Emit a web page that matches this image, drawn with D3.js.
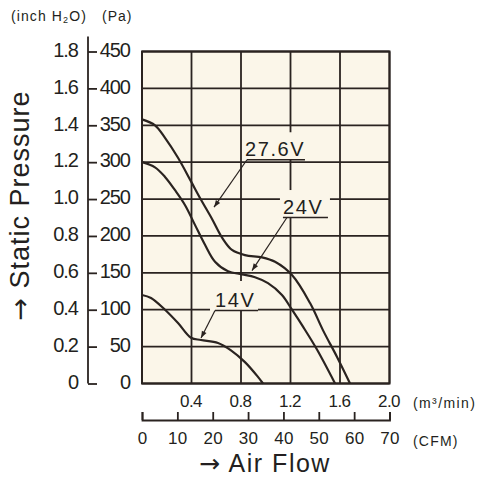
<!DOCTYPE html>
<html>
<head>
<meta charset="utf-8">
<script src="https://cdn.jsdelivr.net/npm/d3@7"></script>
<style>
	body { margin: 0; background: #fff; }
	text { font-family: "Liberation Sans", Arial, sans-serif; fill: #231f20; }
</style>
</head>
<body>
<script>
// values (flow in m3/min, pressure in Pa)
var flow276 = [0, 0.105, 0.186, 0.291, 0.396, 0.477, 0.566, 0.646, 0.727, 0.832, 0.97, 1.075, 1.212, 1.358, 1.463, 1.576, 1.681];
var pres276 = [358, 350, 333, 306, 274, 249, 223, 198, 181, 174, 171, 165, 147, 109, 72, 36, 0];

var flow24 = [0, 0.105, 0.186, 0.267, 0.347, 0.428, 0.509, 0.59, 0.695, 0.808, 0.913, 1.018, 1.131, 1.212, 1.301, 1.414, 1.56];
var pres24 = [300, 293, 280, 262, 242, 215, 188, 165, 152, 148, 144, 136, 120, 100, 77, 46, 0];

var flow14 = [0, 0.073, 0.186, 0.291, 0.396, 0.477, 0.614, 0.719, 0.832, 0.937, 0.978];
var pres14 = [120, 116, 100, 82, 62, 59, 55, 45, 29, 9, 0];

var paTicks = [0, 50, 100, 150, 200, 250, 300, 350, 400, 450];
var inchTicks = [0, 0.2, 0.4, 0.6, 0.8, 1.0, 1.2, 1.4, 1.6, 1.8];
var flowTicks = [0.4, 0.8, 1.2, 1.6, 2.0];
var gridFlow = [0, 0.4, 0.8, 1.2, 1.6, 2.0];
var cfmTicks = [0, 10, 20, 30, 40, 50, 60, 70];

var voltNames = ["27.6V", "24V", "14V"];
// label anchor and leader tip, in data units
var labelFlow = [0.832, 1.139, 0.59];
var labelPres = [308, 229.7, 103.7];
var tipFlow = [0.582, 0.889, 0.477];
var tipPres = [239, 153, 61.6];

var width = 479, height = 477;
var ink = "#2a2320";
var paper = "#fbf6e9";
var margin = {top: 51.5, right: 89.5, bottom: 93.5, left: 142};
var figw = width - margin.left - margin.right;
var figh = height - margin.top - margin.bottom;

var x = d3.scaleLinear().domain([0, 2.0]).range([margin.left, margin.left + figw]);
var y = d3.scaleLinear().domain([0, 450]).range([margin.top + figh, margin.top]);
var yIn = d3.scaleLinear().domain([0, 1.8]).range([margin.top + figh, margin.top]);
var cfm = d3.scaleLinear().domain([0, 70]).range([margin.left, margin.left + figw]);

var svg = d3.select("body").append("svg")
	.attr("width", width)
	.attr("height", height);

// plot background
svg.append("rect")
	.attr("x", x(0))
	.attr("y", y(450))
	.attr("width", x(2) - x(0))
	.attr("height", y(0) - y(450))
	.attr("fill", paper);

// grid
svg.append("g").selectAll("line")
	.data(gridFlow)
	.enter().append("line")
	.attr("x1", function(d) { return x(d); })
	.attr("x2", function(d) { return x(d); })
	.attr("y1", y(0))
	.attr("y2", y(450))
	.style("stroke", ink)
	.style("stroke-width", 1.8);
svg.append("g").selectAll("line")
	.data(paTicks)
	.enter().append("line")
	.attr("x1", x(0))
	.attr("x2", x(2))
	.attr("y1", function(d) { return y(d); })
	.attr("y2", function(d) { return y(d); })
	.style("stroke", ink)
	.style("stroke-width", 1.8);

// label backgrounds hide the grid behind them
var boxes = [
	{dx: -2, dy: -24, w: 64, h: 27},
	{dx: -3, dy: -24, w: 50, h: 28},
	{dx: -5, dy: -26, w: 48, h: 30}
];
for (var i = 0; i < voltNames.length; i++) {
	svg.append("rect")
		.attr("x", x(labelFlow[i]) + boxes[i].dx)
		.attr("y", y(labelPres[i]) + boxes[i].dy)
		.attr("width", boxes[i].w)
		.attr("height", boxes[i].h)
		.attr("fill", paper);
}

// curves
var line = d3.line()
	.x(function(d) { return x(d[0]); })
	.y(function(d) { return y(d[1]); })
	.curve(d3.curveCatmullRom.alpha(0.5));

var series = [d3.zip(flow276, pres276), d3.zip(flow24, pres24), d3.zip(flow14, pres14)];
series.forEach(function(s) {
	svg.append("path")
		.attr("d", line(s))
		.attr("fill", "none")
		.style("stroke", ink)
		.style("stroke-width", 2.2);
});

// labels, underlines and leaders
var underline = [[2, 60], [0, 45], [0, 43]];
var leadFrom = [2, 4, 0];
for (var i = 0; i < voltNames.length; i++) {
	var lx = x(labelFlow[i]), ly = y(labelPres[i]);
	svg.append("text")
		.text(voltNames[i])
		.attr("x", lx)
		.attr("y", ly)
		.style("font-size", "20px")
		.style("letter-spacing", "1.6px");
	svg.append("line")
		.attr("x1", lx + underline[i][0])
		.attr("x2", lx + underline[i][1])
		.attr("y1", ly + 3.5)
		.attr("y2", ly + 3.5)
		.style("stroke", ink)
		.style("stroke-width", 1.6);

	var sx = lx + leadFrom[i], sy = ly + 3.5;
	var tx = x(tipFlow[i]), ty = y(tipPres[i]);
	svg.append("line")
		.attr("x1", sx).attr("y1", sy)
		.attr("x2", tx).attr("y2", ty)
		.style("stroke", ink)
		.style("stroke-width", 1.2);
	var ang = Math.atan2(ty - sy, tx - sx) * 180 / Math.PI;
	svg.append("path")
		.attr("d", "M0,0L-7,-2.6L-7,2.6Z")
		.attr("transform", "translate(" + tx + "," + ty + ") rotate(" + ang + ")")
		.attr("fill", ink);
}

// plot frame
svg.append("rect")
	.attr("x", x(0))
	.attr("y", y(450))
	.attr("width", x(2) - x(0))
	.attr("height", y(0) - y(450))
	.attr("fill", "none")
	.style("stroke", ink)
	.style("stroke-width", 2);

// Pa axis, ticks point right, labels right of the line
var axisX = 88;
var yAxis = d3.axisLeft(y).tickValues(paTicks).tickSizeInner(-9).tickSizeOuter(0);
var gy = svg.append("g")
	.attr("transform", "translate(" + axisX + ",0)")
	.call(yAxis);
gy.select(".domain").remove();
gy.selectAll(".tick line").style("stroke", ink).style("stroke-width", 1.8);
gy.selectAll(".tick text")
	.attr("x", 42)
	.attr("dy", "0.24em")
	.style("text-anchor", "end")
	.style("font-size", "20px")
	.style("letter-spacing", "-1px")
	.style("font-family", "'Liberation Sans', Arial, sans-serif")
	.style("fill", "#231f20");
svg.append("line")
	.attr("x1", axisX).attr("x2", axisX)
	.attr("y1", y(450) - 15).attr("y2", y(0))
	.style("stroke", ink)
	.style("stroke-width", 1.8);

// inch H2O labels
var gi = svg.append("g")
	.attr("transform", "translate(78,0)")
	.call(d3.axisLeft(yIn).tickValues(inchTicks).tickSize(0).tickPadding(0)
		.tickFormat(function(d) { return d === 0 ? "0" : d.toFixed(1); }));
gi.select(".domain").remove();
gi.selectAll(".tick text")
	.attr("dy", "0.24em")
	.style("font-size", "20px")
	.style("letter-spacing", "-1px")
	.style("font-family", "'Liberation Sans', Arial, sans-serif")
	.style("fill", "#231f20");

// m3/min labels under the plot
var gx = svg.append("g")
	.attr("transform", "translate(0," + y(0) + ")")
	.call(d3.axisBottom(x).tickValues(flowTicks).tickSize(0).tickPadding(11.5)
		.tickFormat(function(d) { return d.toFixed(1); }));
gx.select(".domain").remove();
gx.selectAll(".tick text")
	.attr("dx", "-1")
	.style("font-size", "17px")
	.style("letter-spacing", "-0.5px")
	.style("font-family", "'Liberation Sans', Arial, sans-serif")
	.style("fill", "#231f20");

// CFM axis
var gc = svg.append("g")
	.attr("transform", "translate(0,420)")
	.call(d3.axisBottom(cfm).tickValues(cfmTicks).tickSizeInner(-8).tickSizeOuter(-8).tickPadding(12));
gc.select(".domain").style("stroke", ink).style("stroke-width", 1.8);
gc.selectAll(".tick line").style("stroke", ink).style("stroke-width", 1.8);
gc.selectAll(".tick text")
	.style("font-size", "17px")
	.style("letter-spacing", "0.3px")
	.style("font-family", "'Liberation Sans', Arial, sans-serif")
	.style("fill", "#231f20");

// unit captions
var capIn = svg.append("text")
	.attr("x", 11)
	.attr("y", 21)
	.style("font-size", "14px")
	.style("letter-spacing", "1.1px");
capIn.append("tspan").text("(inch H");
capIn.append("tspan").text("2").style("font-size", "9px").attr("dy", 2);
capIn.append("tspan").text("O)").attr("dy", -2);

svg.append("text")
	.text("(Pa)")
	.attr("x", 102)
	.attr("y", 21)
	.style("font-size", "14px")
	.style("letter-spacing", "1px");

svg.append("text")
	.text("(m³/min)")
	.attr("x", 413)
	.attr("y", 408)
	.style("font-size", "14px")
	.style("letter-spacing", "1.4px");

svg.append("text")
	.text("(CFM)")
	.attr("x", 413)
	.attr("y", 446)
	.style("font-size", "14px")
	.style("letter-spacing", "1.2px");

// axis titles, arrow glyph from DejaVu for a full-length arrow
var yTitle = svg.append("text")
	.attr("transform", "translate(28.5,205.5) rotate(-90)")
	.style("text-anchor", "middle")
	.style("font-size", "27px")
	.style("letter-spacing", "1px");
yTitle.append("tspan").text("→").style("font-family", "'DejaVu Sans', sans-serif");
yTitle.append("tspan").text(" Static Pressure");

var xTitle = svg.append("text")
	.attr("x", 265)
	.attr("y", 471.5)
	.style("text-anchor", "middle")
	.style("font-size", "25px")
	.style("letter-spacing", "1.5px");
xTitle.append("tspan").text("→").style("font-family", "'DejaVu Sans', sans-serif");
xTitle.append("tspan").text(" Air Flow");
</script>
</body>
</html>
